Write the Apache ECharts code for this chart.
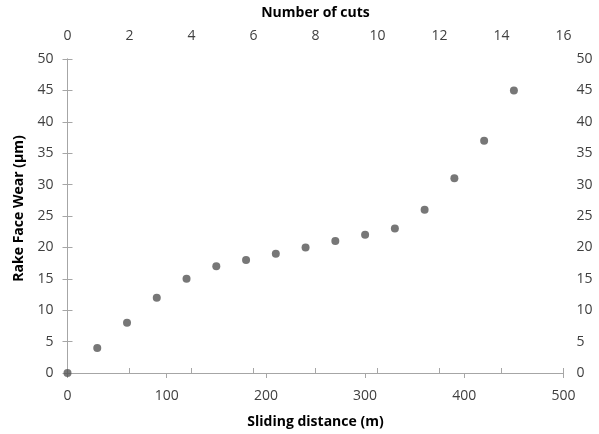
<!DOCTYPE html>
<html><head><meta charset="utf-8">
<script src="https://cdn.jsdelivr.net/npm/echarts@6/dist/echarts.min.js"></script>
<style>html,body{margin:0;padding:0;background:#fff}#c{width:599px;height:434px}</style>
</head><body><div id="c"></div>
<script>
const slidingDistance = [0, 30, 60, 90, 120, 150, 180, 210, 240, 270, 300, 330, 360, 390, 420, 450];
const rakeFaceWear = [0, 4, 8, 12, 15, 17, 18, 19, 20, 21, 22, 23, 26, 31, 37, 45];
const xTitle = 'Sliding distance (m)';
const x2Title = 'Number of cuts';
const yTitle = 'Rake Face Wear (µm)';

const font = 'Open Sans, Noto Sans, sans-serif';
const axisLine = {show: true, lineStyle: {color: '#a6a6a6', width: 1}};
const axisTick = {show: true, inside: false, length: 5, lineStyle: {color: '#a6a6a6'}};
const axisLabel = {color: '#404040', fontSize: 14, fontFamily: font};
const nameStyle = {color: '#000', fontSize: 14, fontWeight: 'bold', fontFamily: font};

const chart = echarts.init(document.getElementById('c'), null, {renderer: 'canvas'});
chart.setOption({
  animation: false,
  backgroundColor: '#fff',
  grid: {left: 67.5, right: 35.5, top: 59, bottom: 61, containLabel: false},
  xAxis: [
    {type: 'value', position: 'bottom', min: 0, max: 500, interval: 100,
     name: xTitle, nameLocation: 'middle', nameGap: 42, nameTextStyle: nameStyle,
     axisLine, axisTick, axisLabel: Object.assign({margin: 16}, axisLabel), splitLine: {show: false}},
    {type: 'value', position: 'top', min: 0, max: 16, interval: 2,
     name: x2Title, nameLocation: 'middle', nameGap: 39, nameTextStyle: nameStyle,
     axisLine, axisTick, axisLabel: Object.assign({margin: 16}, axisLabel), splitLine: {show: false}}
  ],
  yAxis: [
    {type: 'value', position: 'left', min: 0, max: 50, interval: 5,
     name: yTitle, nameLocation: 'middle', nameGap: 41,
     nameTextStyle: Object.assign({padding: [0, 0, 0, 15]}, nameStyle),
     axisLine, axisTick, axisLabel: Object.assign({margin: 14}, axisLabel), splitLine: {show: false}},
    {type: 'value', position: 'right', min: 0, max: 50, interval: 5,
     axisLine, axisTick, axisLabel: Object.assign({margin: 13}, axisLabel), splitLine: {show: false}}
  ],
  series: [{
    type: 'scatter', xAxisIndex: 0, yAxisIndex: 0,
    symbol: 'circle', symbolSize: 8,
    itemStyle: {color: '#555555'},
    data: slidingDistance.map((d, i) => [d, rakeFaceWear[i]])
  }]
});
</script></body></html>
